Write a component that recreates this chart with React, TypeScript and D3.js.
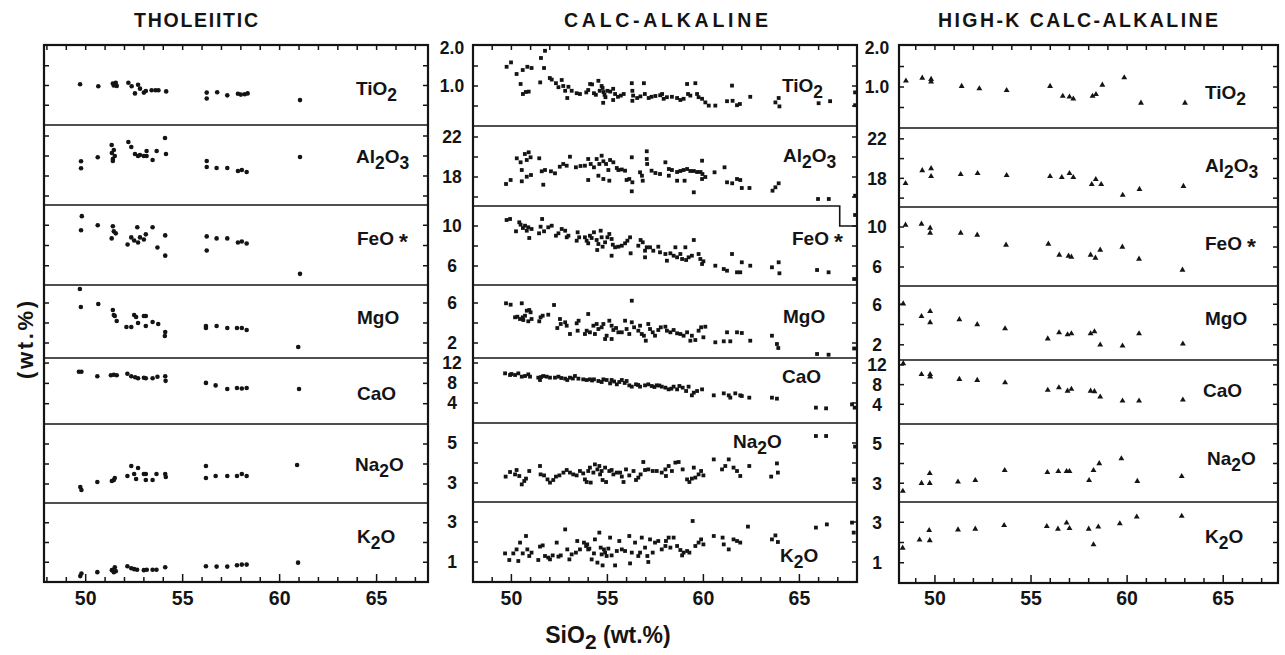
import React from "react";
import * as d3 from "d3";

type P = [number, number];

// ---------- axis / category definitions ----------
const panelTitles = ["THOLEIITIC", "CALC-ALKALINE", "HIGH-K CALC-ALKALINE"];
const oxideNames = ["TiO2", "Al2O3", "FeO*", "MgO", "CaO", "Na2O", "K2O"];
const yDomains: [number, number][] = [[0, 2.025], [15.1, 23.1], [4.1, 12], [0.5, 7.8], [0, 13], [2.05, 6], [0, 4]];
const yTickValues = [[0.5, 1, 1.5], [16, 18, 20, 22], [6, 8, 10], [2, 4, 6], [4, 8, 12], [3, 4, 5], [1, 2, 3]];
const yLabelValues = [[2.0, 1.0], [22, 18], [10, 6], [6, 2], [12, 8, 4], [5, 3], [3, 1]];
const xLabelValues = [50, 55, 60, 65];

// ---------- THOLEIITIC ----------
const thTiO2: P[] = [[49.71,1.03],[50.65,0.98],[51.4,1.05],[51.45,1.0],[51.55,1.07],[51.6,0.99],[52.2,1.07],[52.37,0.98],[52.54,0.8],[52.7,1.02],[52.8,0.92],[53.0,0.82],[53.1,0.86],[53.4,0.88],[53.6,0.88],[53.75,0.88],[54.15,0.85],[56.24,0.82],[56.24,0.67],[56.78,0.83],[57.3,0.75],[57.85,0.79],[58.0,0.77],[58.2,0.78],[58.35,0.8],[61.05,0.63]];
const thAl2O3: P[] = [[49.76,19.47],[49.76,18.77],[50.62,19.87],[51.34,21.1],[51.4,19.7],[51.35,20.3],[51.45,20.6],[51.5,20.0],[51.4,19.5],[52.2,21.4],[52.35,20.9],[52.54,20.2],[52.7,20.0],[52.8,20.1],[53.14,20.5],[53.14,20.0],[53.0,20.0],[53.45,19.6],[53.66,20.5],[54.09,21.8],[54.14,20.2],[56.24,19.5],[56.24,18.9],[56.75,18.8],[57.3,18.8],[57.85,18.5],[58.05,18.6],[58.3,18.4],[61.05,19.9]];
const thFeO: P[] = [[49.8,10.9],[49.76,9.5],[50.62,10.0],[51.4,9.9],[51.34,8.7],[51.45,9.4],[51.55,9.2],[52.16,8.1],[52.35,8.8],[52.5,8.5],[52.66,9.8],[52.7,8.3],[52.8,8.8],[53.0,8.6],[53.1,9.1],[53.45,9.8],[53.7,7.8],[54.1,7.0],[54.1,9.0],[56.24,8.9],[56.24,7.5],[56.75,8.7],[57.3,8.7],[57.85,8.3],[58.05,8.4],[58.3,8.2],[61.05,5.2]];
const thMgO: P[] = [[49.7,7.4],[49.75,5.6],[50.65,5.9],[51.4,5.3],[51.45,4.8],[51.5,4.7],[51.6,4.2],[52.1,3.6],[52.35,3.6],[52.5,4.8],[52.6,4.6],[52.7,4.0],[53.0,4.7],[53.1,4.7],[53.1,3.7],[53.45,4.1],[53.74,3.9],[54.1,3.1],[54.08,2.7],[56.2,3.7],[56.2,3.5],[56.75,3.7],[57.3,3.5],[57.8,3.5],[58.05,3.5],[58.3,3.3],[60.96,1.6]];
const thCaO: P[] = [[49.65,10.3],[49.78,10.3],[50.6,9.4],[51.3,9.6],[51.45,9.7],[51.6,9.6],[52.15,9.9],[52.35,9.4],[52.55,9.2],[52.7,9.0],[53.0,9.1],[53.1,9.0],[53.45,9.0],[53.7,9.3],[54.1,9.4],[54.12,8.5],[56.2,8.1],[56.7,7.6],[57.3,6.9],[57.8,7.1],[58.05,7.0],[58.3,7.1],[61.0,6.9]];
const thNa2O: P[] = [[49.72,2.85],[49.78,2.7],[50.6,3.1],[51.35,3.15],[51.45,3.2],[51.5,3.3],[52.15,3.4],[52.35,3.9],[52.5,3.5],[52.6,3.25],[52.7,3.8],[53.0,3.5],[53.1,3.5],[53.1,3.2],[53.45,3.2],[53.65,3.5],[54.1,3.5],[54.13,3.35],[56.2,3.9],[56.2,3.3],[56.7,3.4],[57.3,3.4],[57.8,3.4],[58.05,3.5],[58.3,3.4],[60.9,3.95]];
const thK2O: P[] = [[49.72,0.3],[49.78,0.43],[50.6,0.5],[51.35,0.6],[51.45,0.5],[51.5,0.75],[51.55,0.55],[52.15,0.8],[52.35,0.7],[52.5,0.65],[52.65,0.62],[53.0,0.6],[53.15,0.62],[53.45,0.62],[53.65,0.62],[54.1,0.75],[56.2,0.8],[56.75,0.78],[57.3,0.78],[57.8,0.85],[58.05,0.88],[58.3,0.88],[60.95,0.98]];

// ---------- CALC-ALKALINE ----------
const caTiO2: P[] = [[49.75,1.48],[49.98,1.59],[50.27,1.3],[50.59,1.4],[50.83,1.48],[51.05,1.45],[50.48,1.05],[50.6,0.8],[50.75,0.85],[50.9,0.86],[51.54,1.7],[51.75,1.88],[51.7,1.45],[51.5,1.09],[52.0,1.2],[52.1,1.16],[52.32,1.07],[52.45,0.97],[52.62,1.15],[52.7,1.0],[52.8,0.88],[52.91,0.7],[52.97,0.98],[53.14,0.88],[53.4,0.82],[53.57,0.8],[53.9,0.84],[54.0,0.9],[54.1,1.05],[54.2,1.04],[54.3,0.82],[54.4,0.78],[54.53,1.13],[54.6,0.88],[54.7,1.0],[54.75,0.95],[54.8,0.85],[54.85,0.78],[54.9,0.72],[54.78,0.58],[55.0,0.88],[55.15,0.86],[55.3,0.93],[55.4,0.8],[55.55,0.73],[55.3,0.65],[55.7,0.76],[55.85,0.8],[56.27,1.07],[56.3,0.88],[56.34,0.76],[56.3,0.63],[56.55,0.7],[56.72,0.74],[56.9,1.07],[56.95,0.8],[57.15,0.7],[57.3,0.73],[57.5,0.75],[57.75,0.77],[57.85,0.8],[57.93,0.68],[58.1,0.72],[58.36,0.73],[58.63,0.7],[58.8,0.65],[58.97,0.68],[59.15,1.05],[59.2,0.8],[59.32,0.76],[59.58,1.07],[59.67,0.8],[59.75,0.72],[59.93,0.68],[60.1,0.59],[60.28,0.51],[60.62,0.51],[61.23,0.62],[61.49,1.01],[61.52,0.63],[61.75,0.52],[61.9,0.55],[62.44,0.73],[63.75,0.59],[63.92,0.7],[63.96,0.49],[66.0,0.57],[66.6,0.62],[67.9,0.84],[67.9,0.52]];
const caAl2O3: P[] = [[49.72,17.3],[49.96,17.7],[50.28,19.87],[50.48,19.47],[50.54,18.7],[50.54,17.57],[50.7,20.3],[50.8,19.7],[50.9,20.47],[51.0,19.97],[50.8,18.03],[51.02,18.2],[51.45,19.87],[51.58,18.57],[51.66,17.23],[51.75,18.7],[52.06,18.57],[52.27,18.37],[52.52,19.03],[52.7,19.3],[52.88,19.13],[53.05,20.03],[53.36,18.97],[53.6,19.1],[53.83,19.13],[54.0,17.7],[54.0,19.8],[54.13,19.3],[54.3,18.97],[54.44,19.8],[54.53,18.13],[54.58,19.3],[54.7,20.13],[54.79,19.57],[54.79,17.8],[54.93,19.3],[55.05,18.7],[55.14,19.7],[55.31,19.47],[55.49,18.9],[55.57,18.7],[55.75,18.75],[55.92,18.63],[55.1,17.63],[56.0,17.7],[56.14,17.8],[56.27,19.97],[56.3,17.47],[56.27,16.57],[56.7,18.47],[56.8,18.13],[57.05,20.57],[57.05,19.8],[57.07,19.3],[56.84,17.63],[57.3,18.63],[57.5,18.4],[57.74,18.3],[58.02,19.47],[58.2,18.8],[58.36,18.7],[58.63,18.5],[58.8,18.6],[58.97,18.7],[58.2,18.13],[58.63,17.63],[59.02,17.63],[59.15,18.8],[59.32,18.6],[59.5,18.6],[59.67,18.5],[59.85,18.5],[59.93,19.63],[59.5,16.47],[59.95,18.3],[60.1,18.0],[59.93,17.8],[60.58,18.47],[61.1,18.97],[61.23,17.47],[61.5,17.37],[61.75,17.8],[61.92,17.7],[62.0,16.9],[62.4,16.9],[63.6,16.63],[63.75,16.97],[63.92,17.37],[65.97,15.8],[66.53,15.8],[67.9,16.13],[67.9,14.2]];
const caFeO: P[] = [[49.75,10.6],[49.93,10.7],[50.24,9.47],[50.41,10.37],[50.48,10.13],[50.6,9.8],[50.71,10.03],[50.8,9.53],[50.88,9.87],[51.05,9.7],[50.93,8.8],[51.44,9.27],[51.52,9.93],[51.6,10.7],[51.7,9.47],[51.92,9.87],[52.1,10.03],[52.32,9.03],[52.45,9.27],[52.62,9.7],[52.8,9.53],[52.88,8.87],[52.97,9.03],[53.4,8.53],[53.53,8.87],[53.45,9.37],[53.83,8.87],[53.92,8.53],[54.0,8.27],[54.09,9.03],[54.18,8.8],[54.3,9.37],[54.44,8.6],[54.47,7.6],[54.53,8.2],[54.65,9.53],[54.7,8.87],[54.75,7.93],[54.88,8.37],[55.0,8.87],[55.1,9.2],[55.22,8.7],[55.28,8.13],[55.22,7.03],[55.4,7.87],[55.57,7.93],[55.75,8.03],[55.92,8.27],[56.04,8.53],[56.18,8.87],[56.21,7.27],[56.61,8.03],[56.73,8.6],[56.84,8.37],[56.96,7.53],[56.96,6.87],[57.05,7.87],[57.22,7.87],[57.39,7.53],[57.65,7.93],[57.74,7.37],[58.02,7.2],[58.1,6.53],[58.28,7.27],[58.45,7.03],[58.54,7.87],[58.63,6.87],[58.8,7.2],[58.89,6.7],[59.06,7.87],[59.1,6.6],[59.23,6.87],[59.5,8.6],[59.4,7.03],[59.75,7.2],[59.84,6.7],[59.93,6.2],[60.0,6.47],[60.62,6.03],[61.06,5.7],[61.23,5.53],[61.49,7.2],[61.75,5.37],[61.92,5.37],[62.0,6.37],[62.44,6.03],[63.57,5.87],[63.92,6.37],[63.96,5.27],[65.92,5.6],[66.52,5.37],[67.85,4.7]];
const caMgO: P[] = [[49.72,5.97],[49.96,5.83],[50.19,4.57],[50.31,4.63],[50.45,4.4],[50.54,5.97],[50.59,4.57],[50.62,4.3],[50.71,4.73],[50.8,5.23],[50.93,5.3],[51.0,5.07],[51.05,4.4],[50.88,4.17],[51.45,4.17],[51.52,4.57],[51.63,4.73],[51.92,4.83],[52.22,5.8],[52.39,3.5],[52.53,4.4],[52.57,3.9],[52.8,4.07],[52.88,3.73],[53.05,2.9],[53.4,3.97],[53.5,4.23],[53.45,3.23],[53.83,2.9],[53.92,3.23],[54.0,4.9],[54.09,3.07],[54.27,3.73],[54.35,2.9],[54.44,3.9],[54.53,3.4],[54.7,3.57],[54.79,3.9],[54.88,2.4],[54.96,2.73],[55.1,4.23],[55.22,3.73],[55.31,3.3],[55.22,2.4],[55.45,3.5],[55.57,3.07],[55.75,3.07],[55.92,4.23],[56.0,3.4],[56.14,2.9],[56.27,6.23],[56.27,4.07],[56.39,3.57],[56.61,3.23],[56.7,3.73],[56.79,2.9],[56.9,2.73],[57.0,2.23],[57.13,3.9],[57.22,3.4],[57.36,3.07],[57.48,2.73],[57.65,3.3],[57.78,3.57],[58.02,3.63],[58.1,3.23],[58.28,3.07],[58.45,3.3],[58.63,2.97],[58.8,2.9],[58.97,2.73],[59.15,3.07],[59.32,2.23],[59.4,2.73],[59.58,2.3],[59.75,3.23],[59.88,3.57],[60.0,2.57],[60.1,3.63],[60.62,2.07],[61.06,2.17],[61.23,3.07],[61.4,2.17],[61.75,3.07],[62.0,3.0],[62.44,2.23],[63.57,2.73],[63.83,1.9],[63.9,1.5],[65.92,0.9],[66.52,0.83],[67.85,1.45]];
const caCaO: P[] = [[49.67,9.93],[49.93,9.6],[50.0,9.8],[50.19,9.6],[50.36,9.93],[50.54,9.27],[50.71,9.4],[50.88,9.73],[50.97,9.27],[51.4,9.07],[51.49,8.6],[51.55,9.2],[51.66,9.4],[51.84,9.27],[52.01,9.07],[52.27,9.07],[52.45,9.27],[52.6,9.0],[52.8,8.87],[52.91,8.6],[53.05,9.07],[53.2,8.9],[53.31,9.4],[53.49,8.87],[53.74,8.73],[53.92,8.6],[54.09,8.73],[54.2,8.5],[54.3,8.73],[54.53,8.4],[54.7,8.2],[54.79,8.73],[54.96,8.6],[55.14,7.93],[55.22,8.6],[55.35,8.3],[55.49,7.73],[55.62,8.2],[55.75,8.6],[55.9,8.0],[56.0,8.4],[56.14,7.53],[56.27,7.27],[56.49,7.73],[56.6,7.6],[56.7,7.27],[56.96,7.53],[57.13,7.73],[57.31,7.4],[57.45,7.2],[57.57,7.53],[57.7,7.5],[57.83,7.27],[58.02,7.07],[58.19,6.73],[58.33,6.87],[58.45,7.27],[58.63,6.73],[58.75,7.4],[58.92,7.07],[59.1,6.4],[59.23,7.27],[59.4,5.53],[59.5,6.07],[59.67,6.4],[59.93,6.73],[60.54,5.53],[61.06,5.93],[61.32,5.53],[61.4,5.07],[61.66,5.93],[61.92,5.53],[62.0,5.4],[62.39,5.07],[63.57,5.07],[63.83,4.87],[65.86,3.07],[66.39,2.93],[67.74,3.73],[67.88,3.07]];
const caNa2O: P[] = [[49.7,3.32],[49.93,3.55],[50.19,3.43],[50.27,3.65],[50.41,3.35],[50.54,2.93],[50.67,3.1],[50.76,3.22],[50.93,3.6],[51.49,3.85],[51.52,3.43],[51.7,3.38],[51.88,3.18],[52.01,3.02],[52.18,3.15],[52.32,3.32],[52.5,3.38],[52.71,3.52],[52.88,3.65],[53.05,3.52],[53.22,3.43],[53.4,3.38],[53.57,3.6],[53.74,3.48],[53.83,3.18],[53.92,3.05],[54.0,3.6],[54.09,3.77],[54.13,3.02],[54.27,3.52],[54.35,3.93],[54.48,3.68],[54.58,3.85],[54.62,3.43],[54.7,3.6],[54.75,3.15],[54.88,3.77],[54.93,3.05],[55.1,3.6],[55.22,3.65],[55.31,3.43],[55.49,3.52],[55.66,3.52],[55.75,3.32],[55.84,3.05],[55.97,3.68],[56.14,3.38],[56.36,3.6],[56.49,3.15],[56.61,3.27],[56.73,3.43],[56.87,4.05],[56.96,3.65],[57.13,3.68],[57.36,3.6],[57.57,3.6],[57.83,3.52],[58.02,3.68],[58.05,3.35],[58.19,3.85],[58.36,3.6],[58.54,4.02],[58.71,4.05],[58.92,3.68],[59.15,3.18],[59.27,3.05],[59.4,3.22],[59.5,3.77],[59.58,3.27],[59.75,3.43],[59.88,3.6],[60.0,3.38],[60.54,4.18],[60.97,3.68],[61.14,3.85],[61.32,4.18],[61.57,3.77],[61.75,3.6],[61.92,3.35],[62.39,3.85],[63.53,3.32],[63.83,3.98],[63.88,3.52],[65.86,5.35],[66.39,5.35],[67.83,3.18],[67.9,4.82]];
const caK2O: P[] = [[49.67,1.43],[49.89,1.1],[50.1,1.43],[50.27,1.63],[50.36,1.05],[50.45,1.97],[50.59,1.43],[50.76,2.3],[50.83,1.63],[50.93,1.3],[51.05,1.47],[51.4,1.1],[51.49,1.77],[51.63,1.83],[51.75,1.3],[51.92,1.22],[52.01,1.13],[52.15,1.33],[52.36,1.97],[52.45,1.27],[52.57,1.33],[52.8,2.63],[52.91,1.63],[53.02,1.13],[53.14,1.38],[53.36,1.47],[53.43,2.05],[53.57,1.63],[53.78,1.97],[53.89,1.8],[53.95,1.88],[54.0,1.63],[54.06,1.67],[54.18,1.13],[54.3,1.43],[54.35,2.13],[54.48,0.97],[54.58,2.47],[54.65,1.72],[54.7,1.38],[54.75,0.83],[54.82,1.63],[54.88,1.47],[54.96,1.3],[55.05,1.67],[55.14,2.22],[55.22,1.33],[55.4,0.83],[55.49,1.55],[55.62,2.05],[55.75,1.63],[55.92,1.55],[56.14,2.3],[56.18,0.93],[56.27,1.47],[56.44,1.97],[56.61,1.3],[56.7,1.47],[56.79,2.22],[56.96,1.72],[57.08,1.3],[57.13,1.0],[57.22,2.13],[57.36,1.47],[57.48,1.97],[57.65,2.05],[57.83,1.63],[58.02,1.8],[58.05,2.05],[58.19,2.22],[58.28,1.72],[58.45,2.22],[58.63,1.8],[58.8,1.6],[58.89,1.33],[58.97,1.47],[59.15,1.55],[59.27,1.47],[59.44,3.05],[59.58,1.8],[59.75,1.97],[59.88,2.13],[60.0,1.88],[60.54,2.3],[61.0,2.22],[61.06,1.88],[61.32,1.63],[61.57,2.13],[61.75,2.05],[61.92,1.97],[62.32,2.77],[63.57,2.13],[63.75,2.33],[63.88,2.0],[65.86,2.72],[66.43,2.88],[67.74,2.97],[67.83,2.47]];

// ---------- HIGH-K CALC-ALKALINE ----------
const hkTiO2: P[] = [[48.49,1.15],[49.34,1.22],[49.8,1.19],[49.8,1.13],[51.39,1.02],[52.31,0.96],[53.73,0.92],[55.99,1.02],[56.65,0.78],[57.0,0.76],[57.2,0.71],[58.2,0.78],[58.38,0.82],[58.71,1.05],[59.85,1.23],[60.72,0.61],[63.01,0.61]];
const hkAl2O3: P[] = [[48.47,17.5],[49.34,18.8],[49.8,19.0],[49.8,18.2],[51.34,18.4],[52.22,18.5],[53.73,18.3],[55.99,18.2],[56.6,18.1],[57.0,18.5],[57.2,18.1],[58.16,17.4],[58.37,17.9],[58.65,17.4],[59.77,16.3],[60.64,16.9],[62.93,17.2]];
const hkFeO: P[] = [[48.47,10.2],[49.3,10.3],[49.75,9.9],[49.75,9.4],[51.34,9.4],[52.2,9.2],[53.7,8.2],[55.9,8.3],[56.47,7.2],[56.95,7.1],[57.1,7.0],[58.1,7.2],[58.35,6.9],[58.6,7.7],[59.75,8.0],[60.62,6.8],[62.88,5.7]];
const hkMgO: P[] = [[48.35,6.05],[49.3,4.8],[49.75,5.3],[49.75,4.2],[51.27,4.5],[52.2,4.0],[53.65,3.6],[55.87,2.6],[56.46,3.2],[56.9,3.0],[57.1,3.1],[58.1,3.1],[58.3,3.3],[58.6,2.0],[59.76,1.9],[60.62,3.1],[62.9,2.1]];
const hkCaO: P[] = [[48.35,12.3],[49.3,10.1],[49.75,10.1],[49.75,9.6],[51.27,9.1],[52.2,8.9],[53.65,8.4],[55.87,6.9],[56.45,7.4],[56.9,6.7],[57.1,7.1],[58.1,6.7],[58.3,6.6],[58.6,5.5],[59.76,4.7],[60.62,4.7],[62.9,4.9]];
const hkNa2O: P[] = [[48.33,2.6],[49.3,3.0],[49.73,3.5],[49.73,3.0],[51.2,3.07],[52.1,3.15],[53.63,3.65],[55.85,3.55],[56.42,3.6],[56.85,3.6],[57.0,3.6],[58.02,3.15],[58.25,3.65],[58.55,4.0],[59.7,4.25],[60.53,3.1],[62.84,3.35]];
const hkK2O: P[] = [[48.32,1.73],[49.2,2.13],[49.73,2.1],[49.7,2.6],[51.2,2.63],[52.1,2.67],[53.6,2.85],[55.82,2.8],[56.4,2.67],[56.85,2.97],[57.0,2.7],[58.0,2.67],[58.25,1.9],[58.5,2.77],[59.62,2.93],[60.5,3.27],[62.84,3.3]];

const panelData: P[][][] = [
  [thTiO2, thAl2O3, thFeO, thMgO, thCaO, thNa2O, thK2O],
  [caTiO2, caAl2O3, caFeO, caMgO, caCaO, caNa2O, caK2O],
  [hkTiO2, hkAl2O3, hkFeO, hkMgO, hkCaO, hkNa2O, hkK2O],
];

// ---------- layout ----------
const W = 1285;
const H = 655;
const FONT = "'Liberation Sans', Arial, sans-serif";
const INK = "#141414";

type Layout = {
  titleX: number; titleW: number; x0: number; x1: number; xDom: [number, number];
  rows: number[]; marker: "circle" | "square" | "triangle"; tickLabelX: number | null;
  labelPos: [number, number][]; step: boolean;
};

const layouts: Layout[] = [
  { titleX: 196, titleW: 124, x0: 44, x1: 428, xDom: [47.85, 67.65], rows: [45,125,205,285,358,424,503,582], marker: "circle", tickLabelX: null,
    labelPos: [[356,95],[356,163],[357,245],[357,324],[357,400],[355,471],[357,543]], step: false },
  { titleX: 666, titleW: 204, x0: 473, x1: 857, xDom: [48, 68], rows: [45,126,206,285,358,423,502,582], marker: "square", tickLabelX: 452,
    labelPos: [[782,92],[783,162],[792,245],[783,323],[782,383],[733,448],[780,562]], step: true },
  { titleX: 1078, titleW: 280, x0: 899, x1: 1278, xDom: [48.13, 67.85], rows: [45,128,207,286,360,424,502,583], marker: "triangle", tickLabelX: 877,
    labelPos: [[1205,99],[1205,172],[1205,250],[1205,325],[1203,397],[1207,465],[1205,543]], step: false },
];

function OxLabel({ x, y, name, size }: { x: number; y: number; name: string; size: number }) {
  const parts = name.match(/[A-Za-z]+|\d|\*/g) || [];
  let sub = false;
  return (
    <text x={x} y={y} fontSize={size} fontFamily={FONT} fontWeight={700} fill={INK}>
      {parts.map((s, i) => {
        if (/\d/.test(s)) {
          const dy = sub ? 0 : 6;
          sub = true;
          return <tspan key={i} dy={dy} fontSize={size * 0.92}>{s}</tspan>;
        }
        if (s === "*") {
          const dy = sub ? -2 : 4;
          sub = false;
          return <tspan key={i} dx={5} dy={dy} fontSize={size * 1.2}>{s}</tspan>;
        }
        const dy = sub ? -6 : 0;
        sub = false;
        return <tspan key={i} dy={dy}>{s}</tspan>;
      })}
    </text>
  );
}

function Panel({ L, data }: { L: Layout; data: P[][] }) {
  const x = d3.scaleLinear().domain(L.xDom).range([L.x0, L.x1]);
  const top = L.rows[0];
  const bottom = L.rows[7];
  const xInts = d3.range(Math.ceil(L.xDom[0]), Math.floor(L.xDom[1]) + 1);
  const tri = d3.symbol().type(d3.symbolTriangle).size(15)();
  const elems: React.ReactNode[] = [];

  oxideNames.forEach((ox, i) => {
    const y = d3.scaleLinear().domain(yDomains[i]).range([L.rows[i + 1], L.rows[i]]);
    yTickValues[i].forEach((v, k) => {
      const yy = y(v);
      if (yy < L.rows[i] + 2 || yy > L.rows[i + 1] - 2) return;
      elems.push(<line key={`tl${i}-${k}`} x1={L.x0} x2={L.x0 + 5} y1={yy} y2={yy} stroke={INK} strokeWidth={1.5} />);
      elems.push(<line key={`tr${i}-${k}`} x1={L.x1 - 5} x2={L.x1} y1={yy} y2={yy} stroke={INK} strokeWidth={1.5} />);
    });
    if (L.tickLabelX !== null) {
      yLabelValues[i].forEach((v, k) => {
        const yy = Math.max(y(v), L.rows[i] + 3);
        elems.push(
          <text key={`yl${i}-${k}`} x={L.tickLabelX as number} y={yy} dy="0.36em" textAnchor="middle"
            fontSize={17.5} fontFamily={FONT} fontWeight={700} fill={INK}>
            {i === 0 ? v.toFixed(1) : String(v)}
          </text>
        );
      });
    }
    data[i].forEach((d, k) => {
      const cx = x(d[0]);
      const cy = y(d[1]);
      if (L.marker === "circle") {
        elems.push(<circle key={`p${i}-${k}`} cx={cx} cy={cy} r={2.3} fill={INK} />);
      } else if (L.marker === "square") {
        elems.push(<rect key={`p${i}-${k}`} x={cx - 1.9} y={cy - 1.9} width={3.8} height={3.8} fill={INK} />);
      } else {
        elems.push(<path key={`p${i}-${k}`} d={tri as string} transform={`translate(${cx},${cy})`} fill={INK} />);
      }
    });
    elems.push(<OxLabel key={`ox${i}`} x={L.labelPos[i][0]} y={L.labelPos[i][1]} name={ox} size={19} />);
  });

  for (let r = 1; r < 7; r++) {
    if (L.step && r === 2) {
      const xs = x(67.1);
      elems.push(
        <path key={`div${r}`} d={`M${L.x0},${L.rows[r]}H${xs}V${L.rows[r] + 20}H${L.x1}`} fill="none" stroke={INK} strokeWidth={1.6} />
      );
    } else {
      elems.push(<line key={`div${r}`} x1={L.x0} x2={L.x1} y1={L.rows[r]} y2={L.rows[r]} stroke={INK} strokeWidth={1.6} />);
    }
  }

  xInts.forEach((v) => {
    const xx = x(v);
    if (xx < L.x0 + 2 || xx > L.x1 - 2) return;
    elems.push(<line key={`xt${v}`} x1={xx} x2={xx} y1={top} y2={top + 5} stroke={INK} strokeWidth={1.5} />);
    const len = v % 5 === 0 ? 8 : 5;
    elems.push(<line key={`xb${v}`} x1={xx} x2={xx} y1={bottom} y2={bottom - len} stroke={INK} strokeWidth={1.5} />);
  });
  xLabelValues.forEach((v) => {
    elems.push(
      <text key={`xl${v}`} x={x(v)} y={605} textAnchor="middle" fontSize={19.5} fontFamily={FONT} fontWeight={700} fill={INK}>
        {v}
      </text>
    );
  });

  elems.push(<rect key="frame" x={L.x0} y={top} width={L.x1 - L.x0} height={bottom - top} fill="none" stroke={INK} strokeWidth={2.2} />);

  return <g>{elems}</g>;
}

export default function App() {
  return (
    <div style={{ position: "absolute", left: 0, top: 0, width: W, height: H, background: "#fff" }}>
      <svg width={W} height={H} viewBox={`0 0 ${W} ${H}`} style={{ display: "block" }}>
        <rect x={0} y={0} width={W} height={H} fill="#fff" />
        {layouts.map((L, i) => (
          <g key={i}>
            <text x={L.titleX} y={27} textAnchor="middle" fontSize={19.5} fontFamily={FONT} fontWeight={700} fill={INK}
              textLength={L.titleW} lengthAdjust="spacing">
              {panelTitles[i]}
            </text>
            <Panel L={L} data={panelData[i]} />
          </g>
        ))}
        <text transform="translate(33,340) rotate(-90)" textAnchor="middle" fontSize={22} fontFamily={FONT} fontWeight={700} fill={INK}
          textLength={78} lengthAdjust="spacing">
          (wt.%)
        </text>
        <text x={608} y={643} textAnchor="middle" fontSize={23} fontFamily={FONT} fontWeight={700} fill={INK}>
          SiO<tspan dy={6} fontSize={21}>2</tspan><tspan dy={-6}> (wt.%)</tspan>
        </text>
      </svg>
    </div>
  );
}
